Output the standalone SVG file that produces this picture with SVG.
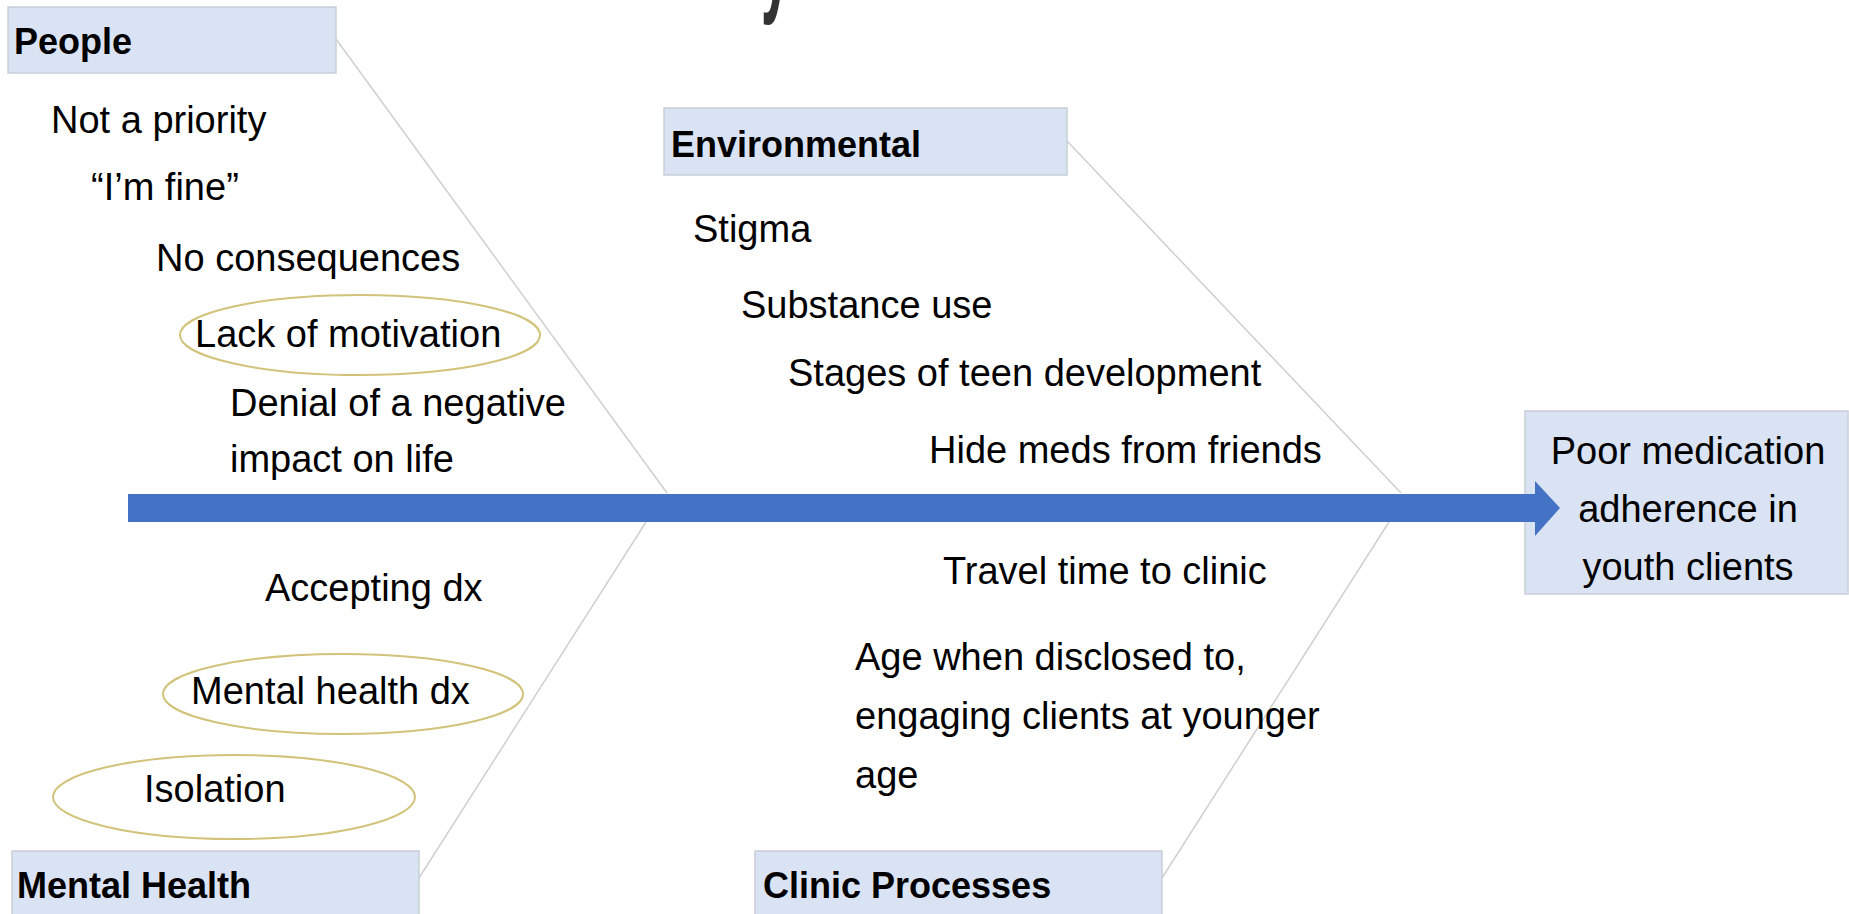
<svg xmlns="http://www.w3.org/2000/svg" width="1849" height="914" viewBox="0 0 1849 914">
<style>
.box{fill:#dae3f3;stroke:#c9ced8;stroke-width:1.5}
.hd{font-family:"Liberation Sans",Arial,sans-serif;font-weight:bold;font-size:36px;fill:#000}
.tx{font-family:"Liberation Sans",Arial,sans-serif;font-size:38px;fill:#000}
.bone{stroke:#cfcfcf;stroke-width:1.5;fill:none}
.oval{fill:none;stroke:#d2c27a;stroke-width:2}
</style>
<rect width="1849" height="914" fill="#fff"/>
<text x="0" y="0" transform="translate(761,0) scale(0.65,1.5)" style="font-family:'Liberation Sans',Arial,sans-serif;font-weight:bold;font-size:82px;fill:#333">y</text>
<g id="connectors">
<line class="bone" x1="336" y1="39" x2="667" y2="493"/>
<line class="bone" x1="1067" y1="141" x2="1401" y2="493"/>
<line class="bone" x1="419" y1="878" x2="646" y2="522"/>
<line class="bone" x1="1162" y1="878" x2="1389" y2="522"/>
</g>
<g id="effect">
<rect class="box" x="1525" y="411" width="323" height="183"/>
<text class="tx" text-anchor="middle" x="1688" y="464">Poor medication</text>
<text class="tx" text-anchor="middle" x="1688" y="522">adherence in</text>
<text class="tx" text-anchor="middle" x="1688" y="580">youth clients</text>
</g>
<g id="spine">
<rect x="128" y="494" width="1408" height="28" fill="#4472c4"/>
<polygon points="1535,481 1560,508 1535,536" fill="#4472c4"/>
</g>
<g id="people">
<rect class="box" x="8" y="7" width="328" height="66"/>
<text class="hd" x="14" y="54">People</text>
<text class="tx" x="51" y="133">Not a priority</text>
<text class="tx" x="91" y="200">“I’m fine”</text>
<text class="tx" x="156" y="271">No consequences</text>
<ellipse class="oval" cx="360" cy="335" rx="180" ry="40"/>
<text class="tx" x="195" y="347">Lack of motivation</text>
<text class="tx" x="230" y="416">Denial of a negative</text>
<text class="tx" x="230" y="472">impact on life</text>
</g>
<g id="environmental">
<rect class="box" x="664" y="108" width="403" height="67"/>
<text class="hd" x="671" y="157">Environmental</text>
<text class="tx" x="693" y="242">Stigma</text>
<text class="tx" x="741" y="318">Substance use</text>
<text class="tx" x="788" y="386">Stages of teen development</text>
<text class="tx" x="929" y="463">Hide meds from friends</text>
</g>
<g id="mental-health">
<rect class="box" x="12" y="851" width="407" height="70"/>
<text class="hd" x="17" y="898">Mental Health</text>
<text class="tx" x="265" y="601">Accepting dx</text>
<ellipse class="oval" cx="343" cy="694" rx="180" ry="40"/>
<text class="tx" x="191" y="704">Mental health dx</text>
<ellipse class="oval" cx="234" cy="797" rx="181" ry="42"/>
<text class="tx" x="144" y="802">Isolation</text>
</g>
<g id="clinic-processes">
<rect class="box" x="755" y="851" width="407" height="70"/>
<text class="hd" x="763" y="898">Clinic Processes</text>
<text class="tx" x="943" y="584">Travel time to clinic</text>
<text class="tx" x="855" y="670">Age when disclosed to,</text>
<text class="tx" x="855" y="729">engaging clients at younger</text>
<text class="tx" x="855" y="788">age</text>
</g>
</svg>
